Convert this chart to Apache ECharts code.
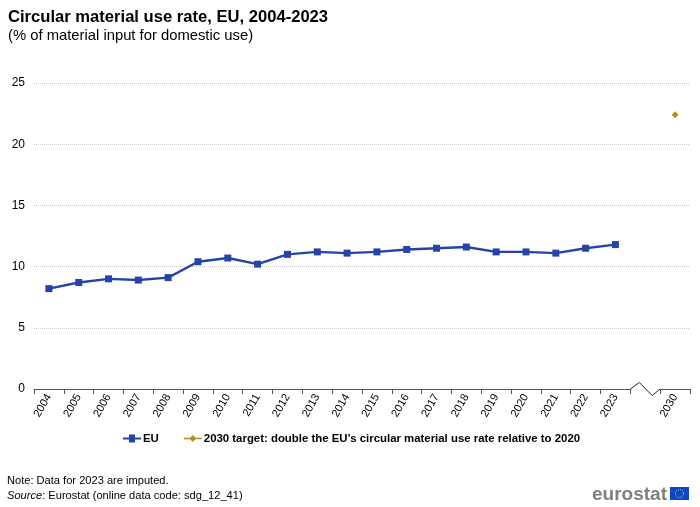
<!DOCTYPE html>
<html><head><meta charset="utf-8">
<script src="https://cdn.jsdelivr.net/npm/echarts@6/dist/echarts.min.js"></script>
<style>html,body{margin:0;padding:0;background:#fff}#c{width:700px;height:507px}</style>
</head><body><div id="c"></div>
<script>
var categories = ['2004','2005','2006','2007','2008','2009','2010','2011','2012','2013','2014','2015','2016','2017','2018','2019','2020','2021','2022','2023','','2030'];
var euValues = [8.2,8.7,9.0,8.9,9.1,10.4,10.7,10.2,11.0,11.2,11.1,11.2,11.4,11.5,11.6,11.2,11.2,11.1,11.5,11.8,null,null];
var targetValues = [null,null,null,null,null,null,null,null,null,null,null,null,null,null,null,null,null,null,null,null,null,22.4];
var breakIndex = [20];
var yTicks = {min:0, max:25, interval:5};

var chart = echarts.init(document.getElementById('c'), null, {renderer:'canvas'});
var FONT = 'Liberation Sans, Arial, sans-serif';
chart.setOption({
  animation:false,
  textStyle:{fontFamily:FONT},
  title:[
    {text:'Circular material use rate, EU, 2004-2023', left:3, top:4,
     textStyle:{fontSize:16.6, fontWeight:'bold', color:'#000', fontFamily:FONT}},
    {text:'(% of material input for domestic use)', left:3, top:23,
     textStyle:{fontSize:14.8, fontWeight:'normal', color:'#000', fontFamily:FONT}}
  ],
  grid:{left:34, right:10, top:83, bottom:118, containLabel:false},
  legend:{
    top:428, left:118, itemGap:25, itemWidth:18, itemHeight:8,
    textStyle:{fontSize:11.4, fontWeight:'bold', color:'#000', fontFamily:FONT, padding:[0,0,0,-3]},
    data:[{name:'EU', icon:'path://M0,3L6,3L6,0L12,0L12,3L18,3L18,5L12,5L12,8L6,8L6,5L0,5Z'},
          {name:'2030 target: double the EU\u2019s circular material use rate relative to 2020', icon:'path://M0,3.2L6.2,3.2L9,0.5L11.8,3.2L18,3.2L18,4.8L11.8,4.8L9,7.5L6.2,4.8L0,4.8Z'}]
  },
  xAxis:{
    type:'category', data:categories, boundaryGap:true,
    axisLine:{lineStyle:{color:'#555', width:1}},
    axisTick:{show:true, length:5, lineStyle:{color:'#555'}},
    axisLabel:{rotate:60, fontSize:11, color:'#000', margin:6, interval:0, fontFamily:FONT}
  },
  yAxis:{
    type:'value', min:yTicks.min, max:yTicks.max, interval:yTicks.interval,
    axisLine:{show:false}, axisTick:{show:false},
    axisLabel:{fontSize:12, color:'#000', margin:9, fontFamily:FONT},
    splitLine:{lineStyle:{color:'#c8c8c8', type:[1,1], width:1}}
  },
  series:[
    {name:'EU', type:'line', data:euValues, color:'#2644A7',
     symbol:'rect', symbolSize:7, lineStyle:{width:2.4, color:'#2644A7'},
     itemStyle:{color:'#2644A7'}},
    {name:'2030 target: double the EU\u2019s circular material use rate relative to 2020', type:'line', data:targetValues,
     color:'#B09120', symbol:'diamond', symbolSize:7, lineStyle:{width:2, color:'#B09120'}, itemStyle:{color:'#B09120'}},
    {type:'custom', silent:true, clip:false, legendHoverLink:false, data:breakIndex.map(function(i){return [i,0];}),
     renderItem:function(params, api){
       var p = api.coord([api.value(0), 0]);
       var w = api.size([1,0])[0];
       var x0 = p[0]-w/2, x1 = p[0]+w/2, y = p[1];
       return {type:'group', children:[
         {type:'rect', shape:{x:x0+1, y:y-2, width:w-2, height:4}, style:{fill:'#fff'}},
         {type:'polyline', shape:{points:[[x0,y],[x0+w*0.3,y-6.5],[x0+w*0.73,y+6.5],[x1,y]]},
          style:{stroke:'#222', lineWidth:1, fill:null}}
       ]};
     }}
  ],
  graphic:[
    {type:'text', left:7, top:475, style:{text:'Note: Data for 2023 are imputed.', fontSize:11.1, fill:'#000', fontFamily:FONT}},
    {type:'text', left:7, top:490, style:{text:'{i|Source}: Eurostat (online data code: sdg_12_41)', fontSize:11.1, fill:'#000', fontFamily:FONT,
      rich:{i:{fontStyle:'italic', fontSize:11.1, fontFamily:FONT}}}},
    {type:'text', right:33, top:485, style:{text:'eurostat', fontSize:19, fontWeight:'bold', fill:'#7f7f7f', fontFamily:FONT}},
    {type:'group', right:11, top:487, children:[
      {type:'rect', shape:{x:0, y:0, width:19, height:13}, style:{fill:'#0E47CB'}},
      {type:'circle', shape:{cx:9.5, cy:6.5, r:4}, style:{fill:null, stroke:'#FFD617', lineWidth:1, lineDash:[1,1.1]}}
    ]}
  ]
});
</script>
</body></html>
